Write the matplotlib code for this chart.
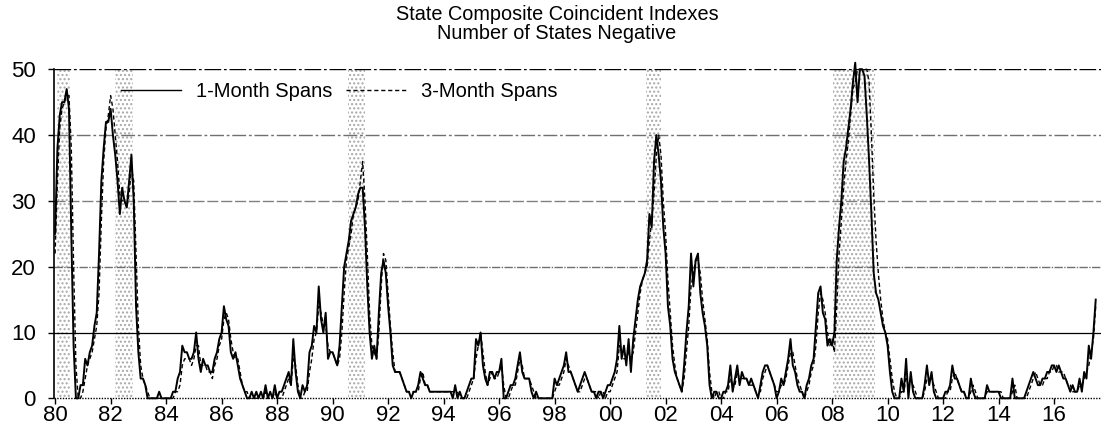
import numpy as np
import matplotlib
matplotlib.use("Agg")
import matplotlib.pyplot as plt
from matplotlib.lines import Line2D

plt.rcParams['font.family'] = ['Liberation Sans Narrow', 'Liberation Sans', 'DejaVu Sans']

# Number of states with negative change, monthly from Jan 1980
one_month = [
    25, 38, 43, 45, 45, 47, 44, 25, 8, 0, 0, 2,        # 1980
    2, 6, 5, 7, 8, 11, 13, 22, 33, 38, 42, 42,         # 1981
    44, 40, 37, 33, 28, 32, 30, 29, 33, 37, 30, 14,    # 1982
    7, 3, 3, 2, 0, 0, 0, 0, 0, 1, 0, 0,                # 1983
    0, 0, 0, 1, 1, 3, 4, 8, 7, 7, 6, 6,                # 1984
    7, 10, 6, 4, 6, 5, 5, 4, 4, 6, 7, 9,               # 1985
    10, 14, 12, 11, 7, 6, 7, 5, 3, 2, 1, 0,            # 1986
    0, 1, 0, 1, 0, 1, 0, 2, 0, 1, 0, 2,                # 1987
    0, 1, 1, 2, 3, 4, 2, 9, 4, 1, 0, 2,                # 1988
    1, 2, 7, 8, 11, 10, 17, 12, 10, 13, 6, 7,          # 1989
    7, 6, 5, 8, 14, 20, 22, 24, 27, 28, 29, 31,        # 1990
    32, 32, 26, 17, 10, 6, 8, 6, 13, 19, 21, 19,       # 1991
    14, 10, 5, 4, 4, 4, 3, 2, 1, 1, 0, 1,              # 1992
    1, 2, 4, 3, 2, 2, 1, 1, 1, 1, 1, 1,                # 1993
    1, 1, 1, 1, 0, 2, 0, 1, 0, 0, 1, 2,                # 1994
    3, 3, 9, 8, 10, 5, 3, 2, 4, 4, 3, 4,               # 1995
    4, 6, 0, 0, 1, 2, 2, 3, 5, 7, 4, 3,                # 1996
    3, 3, 1, 0, 1, 0, 0, 0, 0, 0, 0, 0,                # 1997
    3, 2, 3, 4, 5, 7, 4, 4, 3, 2, 1, 2,                # 1998
    3, 4, 3, 2, 1, 1, 0, 1, 1, 0, 1, 2,                # 1999
    2, 3, 4, 6, 11, 6, 8, 5, 9, 4, 9, 12,              # 2000
    15, 17, 18, 19, 21, 28, 26, 36, 40, 37, 33, 26,    # 2001
    22, 14, 11, 6, 4, 3, 2, 1, 5, 10, 14, 22,          # 2002
    17, 21, 22, 16, 13, 11, 8, 2, 0, 1, 1, 0,          # 2003
    0, 1, 1, 2, 5, 1, 3, 5, 2, 4, 3, 3,                # 2004
    2, 3, 2, 1, 0, 2, 4, 5, 5, 4, 3, 2,                # 2005
    0, 1, 3, 2, 4, 6, 9, 5, 4, 2, 1, 1,                # 2006
    0, 2, 3, 5, 6, 11, 16, 17, 13, 12, 8, 9,           # 2007
    8, 10, 21, 26, 30, 36, 38, 41, 44, 48, 51, 45,     # 2008
    50, 50, 49, 43, 36, 28, 19, 16, 15, 13, 11, 10,    # 2009
    8, 4, 1, 0, 0, 0, 3, 1, 6, 0, 4, 1,                # 2010
    0, 0, 0, 0, 2, 5, 2, 4, 1, 0, 0, 0,                # 2011
    0, 1, 1, 2, 5, 3, 3, 2, 1, 1, 0, 0,                # 2012
    3, 1, 0, 0, 0, 0, 0, 2, 1, 1, 1, 1,                # 2013
    1, 0, 0, 0, 0, 0, 3, 0, 0, 0, 0, 0,                # 2014
    1, 2, 3, 4, 3, 2, 2, 3, 3, 4, 4, 5,                # 2015
    5, 4, 5, 4, 3, 3, 2, 1, 2, 1, 1, 3,                # 2016
    1, 4, 3, 8, 6, 10, 15,                             # 2017
]

three_month = [
    22, 33, 41, 44, 45, 46, 46, 38, 20, 5, 0, 0,       # 1980
    1, 3, 5, 6, 7, 9, 11, 16, 27, 36, 41, 43,          # 1981
    46, 44, 40, 36, 31, 30, 30, 29, 31, 35, 33, 22,    # 1982
    11, 5, 3, 2, 1, 0, 0, 0, 0, 0, 0, 0,               # 1983
    0, 0, 0, 0, 1, 1, 2, 5, 6, 6, 6, 5,                # 1984
    6, 8, 8, 5, 5, 5, 4, 4, 3, 5, 6, 8,                # 1985
    9, 12, 13, 12, 9, 7, 6, 6, 4, 2, 1, 1,             # 1986
    0, 0, 0, 0, 0, 0, 0, 1, 0, 0, 0, 1,                # 1987
    0, 0, 0, 1, 2, 3, 2, 6, 5, 2, 0, 0,                # 1988
    1, 1, 4, 6, 9, 10, 14, 13, 11, 11, 8, 7,           # 1989
    7, 6, 5, 6, 10, 16, 21, 23, 25, 28, 29, 30,        # 1990
    33, 36, 30, 22, 13, 8, 7, 6, 10, 17, 22, 21,       # 1991
    16, 11, 7, 4, 4, 4, 3, 2, 1, 1, 1, 1,              # 1992
    1, 1, 3, 4, 2, 2, 1, 1, 1, 1, 1, 1,                # 1993
    1, 1, 1, 1, 1, 1, 1, 0, 0, 0, 0, 1,                # 1994
    2, 3, 6, 8, 10, 7, 4, 2, 3, 4, 3, 3,               # 1995
    4, 5, 2, 0, 0, 1, 2, 2, 4, 6, 5, 3,                # 1996
    3, 3, 2, 1, 0, 0, 0, 0, 0, 0, 0, 0,                # 1997
    1, 2, 2, 3, 4, 6, 5, 4, 3, 2, 1, 1,                # 1998
    2, 3, 3, 2, 1, 1, 1, 0, 1, 1, 0, 1,                # 1999
    1, 2, 3, 4, 8, 7, 6, 6, 7, 6, 7, 10,               # 2000
    13, 16, 18, 19, 20, 24, 27, 31, 37, 40, 37, 30,    # 2001
    25, 18, 13, 8, 5, 3, 2, 1, 3, 7, 11, 17,           # 2002
    19, 21, 21, 19, 15, 12, 9, 4, 1, 0, 1, 1,          # 2003
    0, 0, 1, 1, 3, 2, 2, 4, 3, 3, 3, 3,                # 2004
    2, 2, 2, 1, 1, 1, 3, 4, 5, 4, 3, 2,                # 2005
    1, 1, 2, 2, 3, 5, 7, 7, 5, 3, 2, 1,                # 2006
    0, 1, 2, 4, 5, 8, 13, 16, 15, 13, 10, 8,           # 2007
    9, 7, 14, 22, 27, 32, 36, 39, 43, 47, 48, 50,      # 2008
    50, 50, 50, 50, 48, 40, 31, 24, 19, 15, 12, 10,    # 2009
    9, 6, 3, 1, 0, 0, 1, 1, 3, 2, 2, 2,                # 2010
    1, 0, 0, 0, 1, 3, 3, 3, 2, 1, 0, 0,                # 2011
    0, 0, 1, 1, 3, 4, 3, 2, 1, 1, 0, 0,                # 2012
    1, 2, 1, 0, 0, 0, 0, 1, 1, 1, 1, 1,                # 2013
    1, 1, 0, 0, 0, 0, 1, 2, 0, 0, 0, 0,                # 2014
    0, 1, 2, 3, 4, 3, 2, 2, 3, 3, 4, 4,                # 2015
    5, 5, 4, 4, 4, 3, 2, 2, 1, 1, 1, 2,                # 2016
    2, 3, 4, 5, 7, 9, 14,                              # 2017
]

# shaded periods (decimal years, as drawn)
shade_start = [1980.07, 1982.15, 1990.55, 2001.30, 2008.05]
shade_end = [1980.55, 1982.80, 1991.17, 2001.83, 2009.53]

tick_years = list(range(1980, 2017, 2))
tick_labels = ["%02d" % (y % 100) for y in tick_years]

x1 = 1980 + np.arange(len(one_month)) / 12.0
x3 = 1980 + np.arange(len(three_month)) / 12.0

fig = plt.figure(figsize=(11.01, 4.24), dpi=100)
ax = fig.add_axes([54 / 1101, 1 - 398.3 / 424, 1 - 54 / 1101, (398.3 - 69.3) / 424])

# shaded periods, stippled
for s, e in zip(shade_start, shade_end):
    ax.axvspan(s, e, ymin=0, ymax=1, facecolor='white', edgecolor='#a8a8a8',
               hatch='....', linewidth=0, zorder=0)

# gridlines (scanned look: different dash styles)
ax.axhline(10, color='black', lw=0.9, zorder=1)
ax.axhline(20, color='#707070', lw=1.0, ls=(0, (6, 1, 1, 1)), zorder=1)
ax.axhline(30, color='#808080', lw=1.0, ls=(0, (8, 2)), zorder=1)
ax.axhline(40, color='#707070', lw=1.0, ls=(0, (10, 2, 2, 2)), zorder=1)
ax.axhline(50, color='black', lw=1.0, ls=(0, (12, 2, 2, 2)), zorder=1)
ax.axhline(0, color='black', lw=1.0, ls=(0, (1, 1)), zorder=1, clip_on=False)

ax.plot(x3, three_month, color='black', lw=1.0, ls=(0, (3, 2)), zorder=3, clip_on=False)
ax.plot(x1, one_month, color='black', lw=1.4, zorder=4, clip_on=False)

ax.set_xlim(1979.96, 2017.69)
ax.set_ylim(0, 50)
ax.set_xticks(tick_years)
ax.set_xticklabels(tick_labels)
ax.set_yticks([0, 10, 20, 30, 40, 50])

for sp in ['top', 'right', 'bottom']:
    ax.spines[sp].set_visible(False)
ax.spines['left'].set_linewidth(1.2)
ax.tick_params(axis='both', labelsize=16, length=4, width=1, direction='out')
ax.tick_params(axis='x', pad=1)
ax.tick_params(axis='y', pad=9)

handles = [Line2D([], [], color='black', lw=1.0),
           Line2D([], [], color='black', lw=1.0, ls=(0, (3, 2)))]
ax.legend(handles, ['1-Month Spans', '3-Month Spans'], ncol=2, frameon=False,
          loc='center left', bbox_to_anchor=(0.064, 0.932), borderpad=0, borderaxespad=0,
          prop={'family': ['Liberation Sans'], 'size': 14.5},
          handlelength=3.0, handletextpad=0.7, columnspacing=0.7)

fig.text(0.506, 0.988, "State Composite Coincident Indexes\nNumber of States Negative",
         ha='center', va='top', fontsize=14.3, linespacing=1.0, family=['Liberation Sans'])

fig.savefig("out.png", dpi=100)
